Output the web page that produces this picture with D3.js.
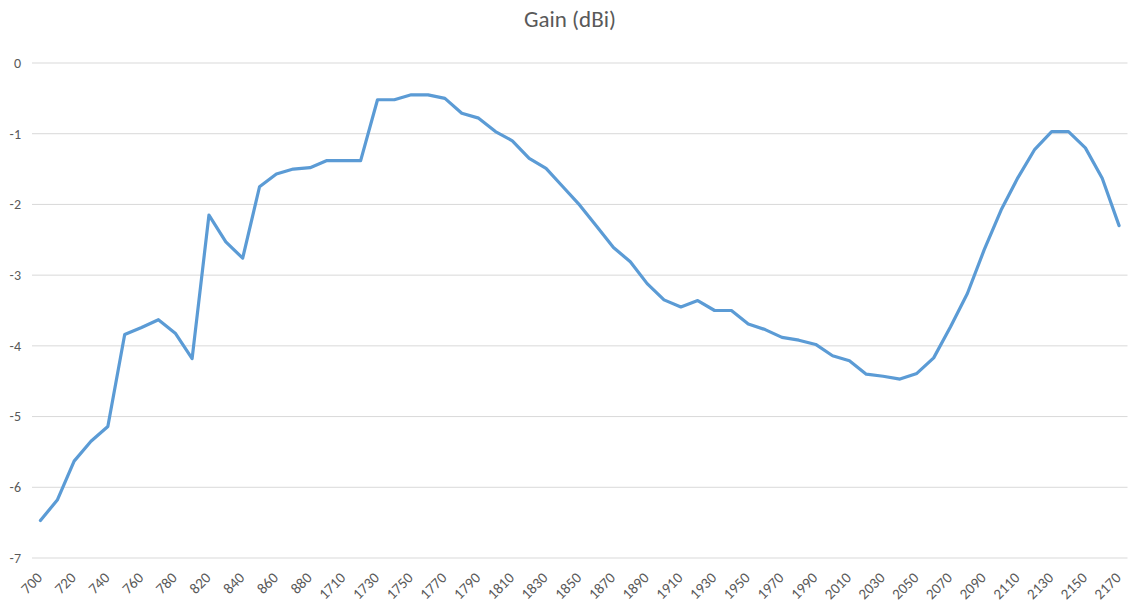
<!DOCTYPE html>
<html lang="en">
	<head>
		<meta charset="utf-8">
		<script src="https://d3js.org/d3.v7.min.js"></script>
		<title>Gain (dBi)</title>
		<style>
			body { margin:0; background:#fff; }
			text { font-family: Calibri, Carlito, Lato, "Open Sans", sans-serif; fill:#595959; }
			.grid line { stroke:#d9d9d9; stroke-width:1px; }
			.line { fill:none; stroke:#5b9bd5; stroke-width:3.2px; stroke-linejoin:round; stroke-linecap:round; }
		</style>
	</head>
	<body>
		<script type="text/javascript">

		var width = 1129,
			height = 614;

		// frequencies (MHz)
		var freqs = [700,710,720,730,740,750,760,770,780,800,
			820,830,840,850,860,870,880,890,
			1710,1720,1730,1740,1750,1760,1770,1780,1790,1800,1810,1820,1830,1840,1850,1860,1870,1880,1890,1900,
			1910,1920,1930,1940,1950,1960,1970,1980,1990,2000,2010,2020,2030,2040,2050,2060,2070,2080,2090,2100,
			2110,2120,2130,2140,2150,2160,2170];

		var gain = [-6.47,-6.18,-5.63,-5.35,-5.14,-3.84,-3.74,-3.63,-3.82,-4.18,
			-2.15,-2.53,-2.76,-1.75,-1.57,-1.50,-1.48,-1.38,
			-1.38,-1.38,-0.52,-0.52,-0.45,-0.45,-0.50,-0.71,-0.78,-0.97,-1.10,-1.35,-1.49,-1.75,-2.01,-2.31,-2.61,-2.81,-3.12,-3.35,
			-3.45,-3.36,-3.50,-3.50,-3.69,-3.77,-3.88,-3.92,-3.98,-4.14,-4.21,-4.40,-4.43,-4.47,-4.39,-4.17,-3.73,-3.26,-2.64,-2.08,
			-1.62,-1.22,-0.97,-0.97,-1.20,-1.63,-2.30];

		var yTicks = [0,-1,-2,-3,-4,-5,-6,-7];
		var title = "Gain (dBi)";

		var data = freqs.map(function(f,i){ return {f:f, v:gain[i]}; });

		var X = d3.scaleBand().domain(freqs).range([32,1127.5]);
		var Y = d3.scaleLinear().domain([-7,0]).range([558,63]);

		var svg = d3.select("body").append("svg")
			.attr("width", width)
			.attr("height", height);

		svg.append("text")
			.attr("x", 570).attr("y", 27)
			.attr("text-anchor","middle")
			.style("font-size","23px")
			.text(title);

		var grid = svg.append("g").attr("class","grid");
		grid.selectAll("line").data(yTicks).enter().append("line")
			.attr("x1", X.range()[0]).attr("x2", X.range()[1])
			.attr("y1", function(d){ return Y(d); })
			.attr("y2", function(d){ return Y(d); });

		svg.append("g").selectAll("text").data(yTicks).enter().append("text")
			.attr("x", 21)
			.attr("y", function(d){ return Y(d); })
			.attr("dy","0.35em")
			.attr("text-anchor","end")
			.style("font-size","14px")
			.text(function(d){ return d; });

		// every other category label, rotated
		svg.append("g").selectAll("text").data(freqs.filter(function(d,i){ return i%2==0; })).enter().append("text")
			.attr("transform", function(d){
				return "translate(" + (X(d) + X.bandwidth()/2 - 1) + ",575) rotate(-45)";
			})
			.attr("text-anchor","end")
			.attr("dy","0.35em")
			.style("font-size","15px")
			.text(function(d){ return d; });

		var line = d3.line()
			.x(function(d){ return X(d.f) + X.bandwidth()/2; })
			.y(function(d){ return Y(d.v); });

		svg.append("path").datum(data)
			.attr("class","line")
			.attr("d", line);

		</script>
	</body>
</html>
